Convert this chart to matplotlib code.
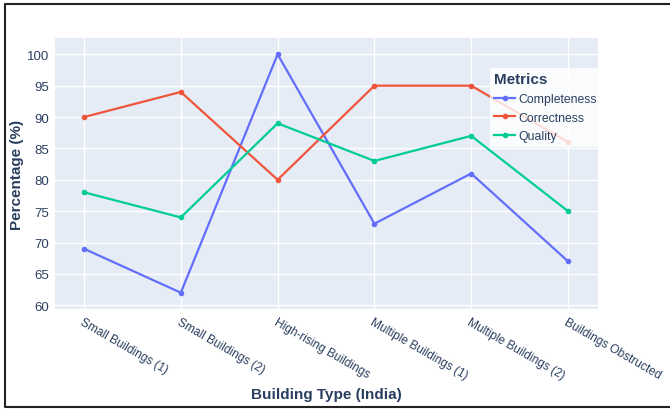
import matplotlib.pyplot as plt
from matplotlib.lines import Line2D
import numpy as np

categories = ["Small Buildings (1)", "Small Buildings (2)", "High-rising Buildings",
              "Multiple Buildings (1)", "Multiple Buildings (2)", "Buildings Obstructed"]
completeness = [69, 62, 100, 73, 81, 67]
correctness = [90, 94, 80, 95, 95, 86]
quality = [78, 74, 89, 83, 87, 75]
y_ticks = [60, 65, 70, 75, 80, 85, 90, 95, 100]

text_color = "#2a3f5f"
plt.rcParams['font.family'] = ['Liberation Sans', 'DejaVu Sans']

fig = plt.figure(figsize=(6.7, 4.1), dpi=100)
ax = fig.add_axes((55 / 670, 1 - 310 / 410, 543 / 670, 271 / 410))
ax.set_facecolor("#E5ECF6")

x = np.arange(len(categories))
series = [("Completeness", completeness, "#636efa"),
          ("Correctness", correctness, "#EF553B"),
          ("Quality", quality, "#00cc96")]
for name, vals, col in series:
    ax.plot(x, vals, color=col, lw=1.6, marker="o", ms=3.0, label=name)

ax.set_xlim(-0.3, 5.31)
ax.set_ylim(59.4, 102.6)
ax.set_yticks(y_ticks)
ax.set_xticks(x)
ax.set_xticklabels(categories, rotation=-30, ha="left", va="top",
                   rotation_mode="anchor")
ax.grid(True, color="white", lw=1)
ax.set_axisbelow(True)
for s in ax.spines.values():
    s.set_visible(False)
ax.tick_params(length=0, colors=text_color, labelsize=9.5)
ax.tick_params(axis="x", pad=5, labelsize=8.6)
ax.tick_params(axis="y", pad=4)

ax.set_ylabel("Percentage (%)", fontsize=11, fontweight="bold", color=text_color)
ax.yaxis.set_label_coords(-0.058, 0.5)
fig.text(326 / 670, 1 - 395 / 410, "Building Type (India)", ha="center", va="center",
         fontsize=11, fontweight="bold", color=text_color)

leg = ax.legend(title="Metrics", loc="upper left",
                bbox_to_anchor=(490 / 670, 1 - 69 / 410), bbox_transform=fig.transFigure,
                frameon=True, fancybox=False, borderaxespad=0, fontsize=8.8,
                handlelength=1.7, handletextpad=0.3, labelspacing=0.55,
                borderpad=0.35, alignment="left")
leg.get_frame().set_facecolor((1, 1, 1, 0.5))
leg.get_frame().set_edgecolor("none")
leg.get_title().set_fontweight("bold")
leg.get_title().set_fontsize(11)
leg.get_title().set_color(text_color)
for t in leg.get_texts():
    t.set_color(text_color)

# screenshot frame (left, top, bottom)
def px(xp, yp):
    return xp / 670, 1 - yp / 410
xs, ys = zip(px(700, 5), px(4.5, 5), px(4.5, 408), px(700, 408))
fig.add_artist(Line2D(xs, ys, color="#222222", lw=1.5, transform=fig.transFigure))

fig.savefig("out.png", dpi=100)
